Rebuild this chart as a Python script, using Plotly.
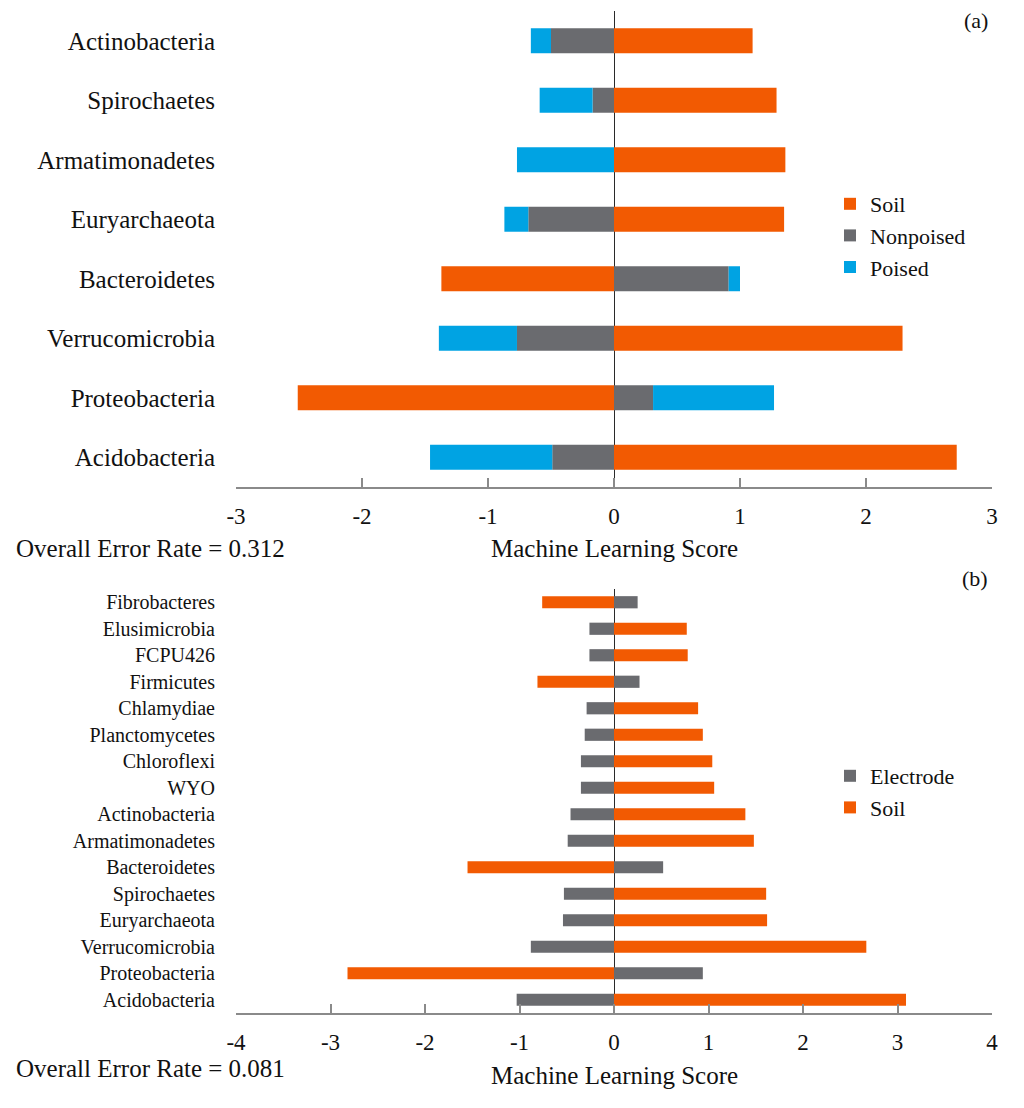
import plotly.graph_objects as go

# ---- Panel (a) data (top-to-bottom order) ----
cats_a = ["Actinobacteria", "Spirochaetes", "Armatimonadetes", "Euryarchaeota",
          "Bacteroidetes", "Verrucomicrobia", "Proteobacteria", "Acidobacteria"]
soil_a = [1.10, 1.29, 1.36, 1.35, -1.37, 2.29, -2.51, 2.72]
nonpoised_a = [-0.50, -0.17, 0.0, -0.68, 0.91, -0.77, 0.31, -0.49]
poised_a = [-0.16, -0.42, -0.77, -0.19, 0.09, -0.62, 0.96, -0.97]
ticks_a = [-3, -2, -1, 0, 1, 2, 3]

# ---- Panel (b) data (top-to-bottom order) ----
cats_b = ["Fibrobacteres", "Elusimicrobia", "FCPU426", "Firmicutes", "Chlamydiae",
          "Planctomycetes", "Chloroflexi", "WYO", "Actinobacteria", "Armatimonadetes",
          "Bacteroidetes", "Spirochaetes", "Euryarchaeota", "Verrucomicrobia",
          "Proteobacteria", "Acidobacteria"]
electrode_b = [0.25, -0.26, -0.26, 0.27, -0.29, -0.31, -0.35, -0.35, -0.46, -0.49,
               0.52, -0.53, -0.54, -0.88, 0.94, -1.03]
soil_b = [-0.76, 0.77, 0.78, -0.81, 0.89, 0.94, 1.04, 1.06, 1.39, 1.48,
          -1.55, 1.61, 1.62, 2.67, -2.82, 3.09]
ticks_b = [-4, -3, -2, -1, 0, 1, 2, 3, 4]

ORANGE = "#F25A02"
GRAY = "#6A6B6F"
BLUE = "#00A3E3"
SERIF = "Liberation Serif"
TXT = "#111111"

W, H = 1024, 1108
OFFX, OFFY = 8, 8  # page body offset


def fx(px):
    return (px - OFFX) / W


def fy(py):
    return 1 - (py - OFFY) / H


fig = go.Figure()
fig.add_trace(go.Bar(y=cats_a, x=soil_a, orientation="h", name="Soil",
                     marker=dict(color=ORANGE, line=dict(width=0)), width=0.42,
                     xaxis="x", yaxis="y", legend="legend"))
fig.add_trace(go.Bar(y=cats_a, x=nonpoised_a, orientation="h", name="Nonpoised",
                     marker=dict(color=GRAY, line=dict(width=0)), width=0.42,
                     xaxis="x", yaxis="y", legend="legend"))
fig.add_trace(go.Bar(y=cats_a, x=poised_a, orientation="h", name="Poised",
                     marker=dict(color=BLUE, line=dict(width=0)), width=0.42,
                     xaxis="x", yaxis="y", legend="legend"))

fig.add_trace(go.Bar(y=cats_b, x=electrode_b, orientation="h", name="Electrode",
                     marker=dict(color=GRAY, line=dict(width=0)), width=0.46,
                     xaxis="x2", yaxis="y2", legend="legend2"))
fig.add_trace(go.Bar(y=cats_b, x=soil_b, orientation="h", name="Soil",
                     marker=dict(color=ORANGE, line=dict(width=0)), width=0.46,
                     xaxis="x2", yaxis="y2", legend="legend2"))

xdom = [fx(236), fx(992)]
ydom_a = [fy(487), fy(11)]
ydom_b = [fy(1013), fy(589)]

xcommon = dict(showgrid=False, zeroline=True, zerolinecolor="#2a2a2a", zerolinewidth=1,
               showline=True, linecolor="#8a8a8a", linewidth=1.5, ticks="inside",
               ticklen=9, tickwidth=1.5, tickcolor="#8a8a8a",
               tickfont=dict(family=SERIF, size=23, color=TXT),
               ticklabelstandoff=8, automargin=False)

fig.update_layout(
    template="none",
    width=W, height=H, barmode="relative",
    margin=dict(l=0, r=0, t=0, b=0, pad=0),
    plot_bgcolor="white", paper_bgcolor="white",
    font=dict(family=SERIF, color=TXT),
    xaxis=dict(domain=xdom, anchor="y", range=[-3, 3], tickvals=ticks_a,
               ticktext=[str(v) for v in ticks_a], **xcommon),
    yaxis=dict(domain=ydom_a, anchor="x", autorange="reversed", showgrid=False,
               showline=False, zeroline=False, ticks="",
               tickfont=dict(family=SERIF, size=25, color=TXT),
               ticklabelstandoff=20, automargin=False),
    xaxis2=dict(domain=xdom, anchor="y2", range=[-4, 4], tickvals=ticks_b,
                ticktext=[str(v) for v in ticks_b], **xcommon),
    yaxis2=dict(domain=ydom_b, anchor="x2", autorange="reversed", showgrid=False,
                showline=False, zeroline=False, ticks="",
                tickfont=dict(family=SERIF, size=20, color=TXT),
                ticklabelstandoff=20, automargin=False),
    legend=dict(x=fx(830), y=fy(183), xanchor="left", yanchor="top",
                font=dict(family=SERIF, size=22, color=TXT), tracegroupgap=0,
                itemwidth=30, bgcolor="rgba(0,0,0,0)", borderwidth=0),
    legend2=dict(x=fx(830), y=fy(755), xanchor="left", yanchor="top",
                 font=dict(family=SERIF, size=22, color=TXT), tracegroupgap=0,
                 itemwidth=30, bgcolor="rgba(0,0,0,0)", borderwidth=0),
    showlegend=True,
)

ann = [
    dict(text="(a)", x=990, y=20, xanchor="right", size=22),
    dict(text="(b)", x=990, y=578, xanchor="right", size=22),
    dict(text="Machine Learning Score", x=614, y=548, xanchor="center", size=25),
    dict(text="Machine Learning Score", x=614, y=1075, xanchor="center", size=25),
    dict(text="Overall Error Rate = 0.312", x=14, y=548, xanchor="left", size=25),
    dict(text="Overall Error Rate = 0.081", x=14, y=1068, xanchor="left", size=25),
]
for a in ann:
    fig.add_annotation(text=a["text"], x=fx(a["x"]), y=fy(a["y"]), xref="paper", yref="paper",
                       xanchor=a["xanchor"], yanchor="middle", showarrow=False,
                       font=dict(family=SERIF, size=a["size"], color=TXT))

fig.write_html("out.html")
